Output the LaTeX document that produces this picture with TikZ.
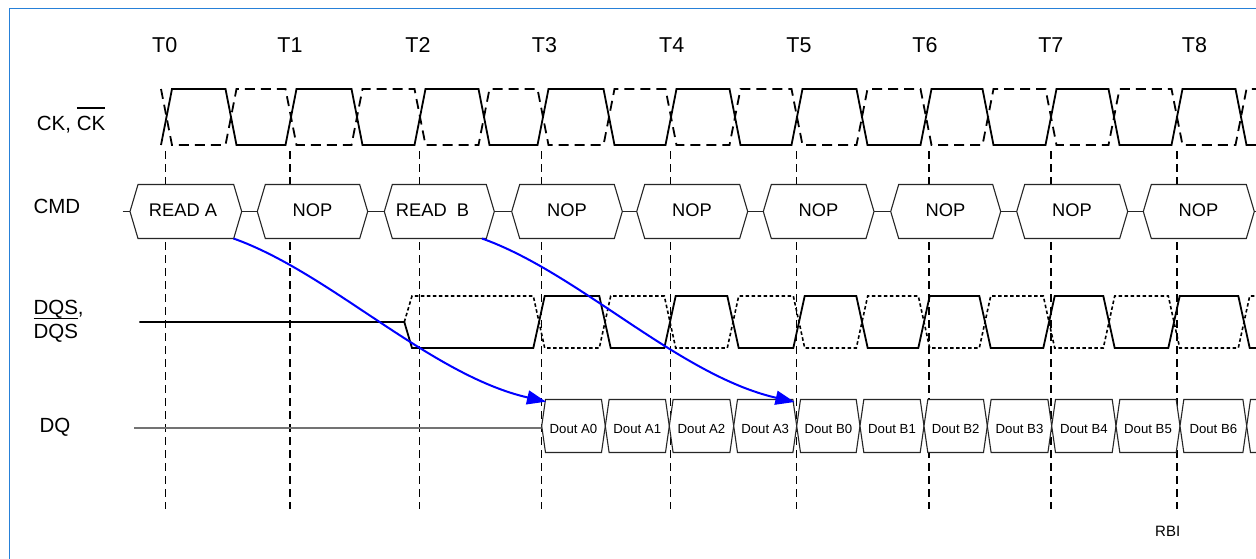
\documentclass[tikz,border=0pt]{standalone}
\usepackage{fontspec}
\setmainfont{Liberation Sans}
\usetikzlibrary{arrows.meta}
\definecolor{frameblue}{RGB}{38,128,216}
\newcommand\ovl[2][6pt]{\setbox0\hbox{#2}\rlap{\raisebox{\dimexpr\ht0+#1\relax}{\rule{\wd0}{1.4pt}}}\box0}
\tikzset{
  vline/.style={line width=1.5pt, dash pattern=on 8pt off 5pt},
  ckline/.style={line width=1.8pt},
  ckbar/.style={line width=1.8pt, dash pattern=on 10pt off 6pt},
  dqsline/.style={line width=1.8pt},
  dqsbar/.style={line width=1.6pt, dash pattern=on 3.5pt off 2.5pt},
  hexline/.style={line width=1.1pt, draw=black!85, fill=white},
  stub/.style={line width=1.1pt, draw=black!85},
  dqline/.style={line width=1.5pt, draw=black!55},
  flow/.style={draw=blue, line width=2pt, -{Triangle[length=19pt,width=14pt]}},
  lbl/.style={font=\fontsize{20.5}{24}\selectfont, inner sep=0pt},
  tlbl/.style={font=\fontsize{21.5}{25}\selectfont, inner sep=0pt},
  cmdtxt/.style={font=\fontsize{18.3}{22}\selectfont, inner sep=0pt},
  dqtxt/.style={font=\fontsize{13.2}{16}\selectfont, inner sep=0pt},
  rbitxt/.style={font=\fontsize{15}{18}\selectfont, inner sep=0pt}
}
\begin{document}
\begin{tikzpicture}[x=1pt,y=-1pt]
\useasboundingbox (0,0) rectangle (1256,558);
\clip (0,0) rectangle (1256,558);
% frame
\draw[frameblue, line width=1.5pt] (9.3,570) -- (9.3,8.3) -- (1270,8.3);
% clock labels
\foreach \x [count=\i from 0] in {164.7,290,418,544.5,671.7,799,925,1050.8,1194.5}
  \node[tlbl] (t\i) at (\x,45) {T\i};
% vertical dashed lines
\foreach \x in {165.7,290,419.3,541.7,670.7,796.7,929,1051,1177}
  \draw[vline] (\x,151) -- (\x,509);
% CK waveform
\draw[ckline] (161,145) \foreach \x [count=\i from 0] in {166.5,231,291,357,420,484,543,609,671,735,797,862,926,988,1051,1114,1177,1241}
  { -- ({\x-5.5},{117+28*cos(180*\i)}) -- ({\x+5.5},{117-28*cos(180*\i)}) } -- (1270,145);
\draw[ckbar] (161,89) \foreach \x [count=\i from 0] in {166.5,231,291,357,420,484,543,609,671,735,797,862,926,988,1051,1114,1177,1241}
  { -- ({\x-5.5},{117-28*cos(180*\i)}) -- ({\x+5.5},{117+28*cos(180*\i)}) } -- (1270,89);
% signal labels
\node[lbl, anchor=base west] (ck) at (36.7,130) {CK, \ovl[7pt]{CK}};
\node[lbl, anchor=west] (cmd) at (33.3,206.7) {CMD};
\node[lbl, anchor=base west] (dqs1) at (33.3,314) {DQS,};
\node[lbl, anchor=base west] (dqs2) at (33.3,338.3) {\ovl[5pt]{DQS}};
\node[lbl, anchor=base west] (dq) at (39.3,432) {DQ};
% CMD bus
\foreach \a/\b in {122.7/130,241.7/257.3,367.7/384.3,494.3/511.7,622.3/636.7,747.7/763.3,874/890.7,1000.7/1016.7,1127.7/1143.3,1254.3/1270}
  \draw[stub] (\a,211.5) -- (\b,211.5);
\foreach \l/\r/\c/\t [count=\i] in {130/241.7/183/READ A,257.3/367.7/312.5/NOP,384.3/494.3/432.5/{READ\ \ B},511.7/622.3/567/NOP,636.7/747.7/692/NOP,763.3/874/818.5/NOP,890.7/1000.7/945.5/NOP,1016.7/1127.7/1072/NOP,1143.3/1254.3/1198.5/NOP}
{
  \draw[hexline] (\l,211.5) -- ({\l+8},184.5) -- ({\r-8},184.5) -- (\r,211.5) -- ({\r-8},238.5) -- ({\l+8},238.5) -- cycle;
  \node[cmdtxt] (c\i) at (\c,210) {\t};
}
% DQS
\draw[dqsline] (139.3,322) -- (404.3,322) -- (412,348) \foreach \x [count=\i from 0] in {539,605,670,733,799,862,924,985,1049,1109,1174,1244}
  { -- ({\x-5.7},{322+26*cos(180*\i)}) -- ({\x+5.7},{322-26*cos(180*\i)}) } -- (1270,348);
\draw[dqsbar] (404.3,322) -- (412,296) \foreach \x [count=\i from 0] in {539,605,670,733,799,862,924,985,1049,1109,1174,1244}
  { -- ({\x-5.7},{322-26*cos(180*\i)}) -- ({\x+5.7},{322+26*cos(180*\i)}) } -- (1270,296);
% DQ
\draw[dqline] (134.3,428) -- (541.7,428);
\foreach \l/\r/\t [count=\i] in {541.7/605.3/A0,605.3/669.3/A1,669.3/733.7/A2,733.7/796.7/A3,796.7/860/B0,860/924/B1,924/987.3/B2,987.3/1051.7/B3,1051.7/1116/B4,1116/1180/B5,1180/1246.7/B6}
{
  \draw[hexline] (\l,426) -- ({\l+3.8},399.5) -- ({\r-3.8},399.5) -- (\r,426) -- ({\r-3.8},452.5) -- ({\l+3.8},452.5) -- cycle;
  \node[dqtxt] (d\i) at ({(\l+\r)/2},429) {Dout \t};
}
\draw[hexline] (1290,399.5) -- (1250.5,399.5) -- (1246.7,426) -- (1250.5,452.5) -- (1290,452.5);
% RBI
\node[rbitxt] (rbi) at (1167.7,531.7) {RBI};
% arrows
\coordinate (ra) at (233.5,238.5);
\coordinate (a0) at (546,401.7);
\coordinate (rb) at (482,238.5);
\coordinate (b0) at (794.5,402);
\draw[flow] (ra) .. controls +(97,34.5) and +(-116,-26.7) .. (a0);
\draw[flow] (rb) .. controls +(97,34.5) and +(-116,-26.7) .. (b0);
\end{tikzpicture}
\end{document}
